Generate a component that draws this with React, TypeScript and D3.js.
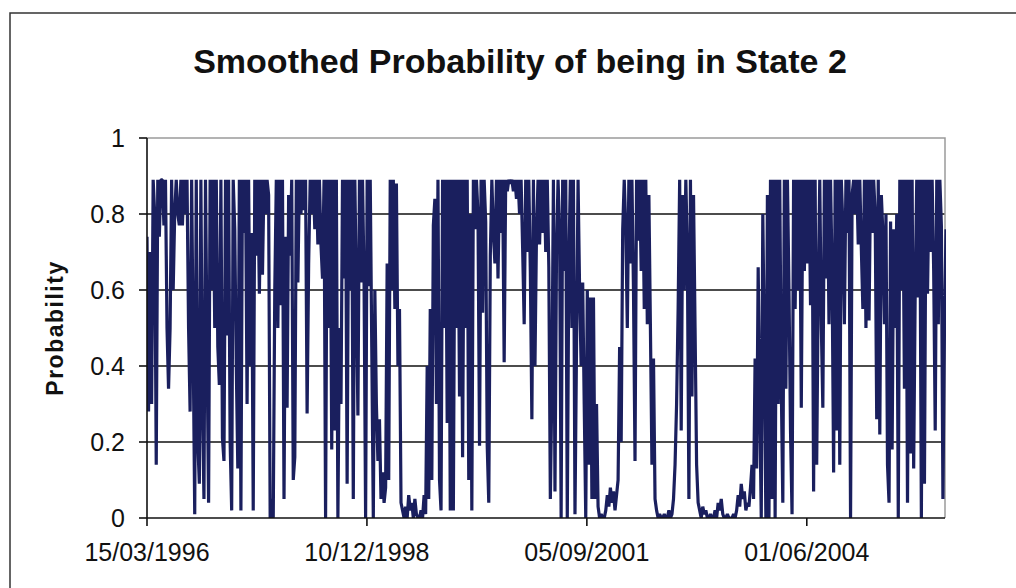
import React from 'react';
import * as d3 from 'd3';

const chartTitle = 'Smoothed Probability of being in State 2';
const yAxisTitle = 'Probability';
const startDateLabel = '15/03/1996';
const sampleStepDays = 7;
const xTickLabels = ['15/03/1996', '10/12/1998', '05/09/2001', '01/06/2004'];
const yTickValues = [0, 0.2, 0.4, 0.6, 0.8, 1];
const yTickLabels = ['0', '0.2', '0.4', '0.6', '0.8', '1'];

// Smoothed probability of State 2, one reading per week from 15/03/1996
const smoothedProb = [
  0.74, 0.28, 0.7, 0.3, 0.89, 0.8, 0.14, 0.89, 0.74, 0.89,
  0.89, 0.77, 0.89, 0.5, 0.34, 0.5, 0.89, 0.6, 0.8, 0.89,
  0.8, 0.77, 0.89, 0.77, 0.89, 0.8,
  0.89, 0.5, 0.28, 0.89, 0.45, 0.01, 0.89, 0.2, 0.09, 0.89, 0.3, 0.05, 0.89, 0.45,
  0.04, 0.89, 0.6, 0.89, 0.5, 0.89, 0.45, 0.35, 0.89, 0.21, 0.15,
  0.89, 0.48, 0.89, 0.2, 0.02, 0.89, 0.76, 0.4, 0.13, 0.89, 0.02,
  0.89, 0.75, 0.89, 0.3, 0.89, 0.4, 0.75, 0.02, 0.89, 0.69, 0.89, 0.59, 0.89, 0.64, 0.89, 0.8, 0.89,
  0.85, 0.0, 0.05, 0.0, 0.6,
  0.89, 0.5, 0.89, 0.56, 0.89, 0.05, 0.74, 0.29, 0.85, 0.69, 0.89, 0.1, 0.16, 0.89, 0.62,
  0.89, 0.8, 0.89, 0.81, 0.89, 0.275, 0.67, 0.89, 0.8, 0.89, 0.76, 0.89, 0.72, 0.89, 0.72,
  0.63, 0.89, 0.0, 0.89, 0.5,
  0.89, 0.18, 0.89, 0.23, 0.89, 0.0, 0.5, 0.3, 0.89, 0.63, 0.89, 0.09, 0.89, 0.6, 0.89,
  0.05, 0.89, 0.6, 0.27, 0.89, 0.62,
  0.89, 0.62, 0.0, 0.89, 0.61, 0.89, 0.45, 0.0, 0.6, 0.3, 0.15, 0.26, 0.05, 0.12, 0.04, 0.08,
  0.67, 0.1, 0.89, 0.6, 0.89, 0.55, 0.88, 0.4, 0.55, 0.04,
  0.02, 0.0, 0.03, 0.0, 0.06, 0.02, 0.04, 0.0, 0.05, 0.01, 0.0, 0.0, 0.02, 0.0, 0.06, 0.01,
  0.4, 0.05, 0.55, 0.1, 0.77,
  0.84, 0.3, 0.89, 0.1, 0.02, 0.89, 0.5, 0.89, 0.25, 0.89, 0.02,
  0.89, 0.02, 0.89, 0.5, 0.89, 0.32, 0.89, 0.16, 0.89, 0.5, 0.89, 0.1, 0.8,
  0.02, 0.89, 0.76, 0.89, 0.8, 0.19, 0.89, 0.54, 0.89, 0.78, 0.19, 0.04, 0.69,
  0.89, 0.75, 0.67, 0.89, 0.63, 0.89, 0.75, 0.89, 0.41, 0.89, 0.86,
  0.89, 0.88, 0.89, 0.86, 0.89, 0.84, 0.89, 0.8, 0.89, 0.71, 0.51,
  0.89, 0.7, 0.89, 0.65, 0.26, 0.89, 0.4, 0.75, 0.89, 0.72, 0.89, 0.75, 0.89, 0.7, 0.89,
  0.66, 0.05, 0.35, 0.89, 0.07, 0.7, 0.89, 0.76, 0.0, 0.89, 0.65, 0.89, 0.0, 0.67,
  0.89, 0.5, 0.89, 0.01, 0.45, 0.89, 0.6,
  0.4, 0.62, 0.3, 0.0, 0.6, 0.14, 0.58, 0.05, 0.58, 0.05, 0.3, 0.03,
  0.0, 0.01, 0.0, 0.0, 0.02, 0.06, 0.03, 0.08, 0.04, 0.07, 0.02, 0.06, 0.1,
  0.45, 0.2, 0.76, 0.89,
  0.76, 0.5, 0.89, 0.67, 0.89, 0.6, 0.15, 0.89, 0.73, 0.89,
  0.65, 0.89, 0.55, 0.89, 0.51, 0.85, 0.5, 0.14, 0.42, 0.05,
  0.02, 0.0, 0.01, 0.0, 0.0, 0.01, 0.0, 0.0, 0.02, 0.0, 0.01, 0.05, 0.14,
  0.3, 0.55, 0.89, 0.23, 0.85, 0.6, 0.89, 0.7, 0.05, 0.89, 0.32, 0.85, 0.5, 0.14, 0.04,
  0.02, 0.0, 0.03, 0.01, 0.02, 0.0, 0.0, 0.01, 0.0, 0.0,
  0.02, 0.0, 0.04, 0.02, 0.05, 0.01, 0.0, 0.0, 0.01, 0.0,
  0.0, 0.0, 0.01, 0.0, 0.02, 0.06, 0.03, 0.09, 0.05, 0.07,
  0.02, 0.04, 0.03, 0.08,
  0.14, 0.05, 0.42, 0.13, 0.66, 0.3, 0.0, 0.8, 0.45, 0.0, 0.85, 0.0, 0.89,
  0.05, 0.89, 0.0, 0.89, 0.3, 0.89, 0.35, 0.04, 0.89, 0.34,
  0.89, 0.6, 0.23, 0.01, 0.89, 0.55, 0.89, 0.6, 0.89, 0.29,
  0.89, 0.65, 0.89, 0.67, 0.89, 0.56, 0.89, 0.07, 0.89, 0.14,
  0.6, 0.89, 0.51, 0.29, 0.89, 0.63, 0.89, 0.51, 0.89, 0.65,
  0.12, 0.89, 0.23, 0.89, 0.14, 0.89, 0.77, 0.51, 0.89, 0.75,
  0.89, 0.0, 0.85, 0.89, 0.8, 0.89, 0.72, 0.89, 0.71,
  0.55, 0.89, 0.5, 0.89, 0.52, 0.89,
  0.75, 0.89, 0.8, 0.26, 0.89, 0.22, 0.85, 0.75, 0.51, 0.8, 0.14, 0.04, 0.78, 0.18, 0.76, 0.5, 0.8,
  0.0, 0.89, 0.6, 0.89, 0.34, 0.89, 0.04, 0.89, 0.17, 0.89, 0.13, 0.6, 0.89, 0.58, 0.89, 0.0,
  0.89, 0.09, 0.89, 0.59, 0.89, 0.7, 0.89, 0.65, 0.23, 0.89, 0.51, 0.89, 0.77, 0.05, 0.5, 0.76,
];

const W = 1016;
const H = 588;
const plot = { left: 147, right: 946, top: 138, bottom: 518 };
const lineColor = '#1a1f5e';
const font = "'Liberation Sans', Arial, sans-serif";

export default function App() {
  const parse = d3.utcParse('%d/%m/%Y');
  const start = parse(startDateLabel) as Date;
  const dates = smoothedProb.map((_, i) => d3.utcDay.offset(start, i * sampleStepDays));
  const x = d3.scaleUtc().domain([start, dates[dates.length - 1]]).range([plot.left, plot.right]);
  const y = d3.scaleLinear().domain([0, 1]).range([plot.bottom, plot.top]);
  const pathD = d3
    .line<number>()
    .x((_, i) => x(dates[i]))
    .y((d) => y(d))(smoothedProb) || '';
  const xTicks = xTickLabels.map((l) => ({ label: l, date: parse(l) as Date }));
  const gridRight = 945;

  return (
    <svg
      width={W}
      height={H}
      viewBox={`0 0 ${W} ${H}`}
      style={{ position: 'fixed', left: 0, top: 0, background: '#fff', fontFamily: font }}
    >
      <rect x={0} y={0} width={W} height={H} fill="#fff" />
      <path d={`M10,${H + 5}V13H${W + 5}`} fill="none" stroke="#333" strokeWidth={1.5} />
      <text x={520} y={73} textAnchor="middle" fontSize={34} fontWeight="bold" fill="#111">
        {chartTitle}
      </text>
      {yTickValues
        .filter((v) => v > 0 && v < 1)
        .map((v) => (
          <line key={v} x1={plot.left} x2={gridRight} y1={y(v)} y2={y(v)} stroke="#111" strokeWidth={1.6} />
        ))}
      <path
        d={`M${plot.left},${y(1)}H${gridRight}V${y(0)}`}
        fill="none"
        stroke="#9a9a9a"
        strokeWidth={1.5}
      />
      <defs>
        <clipPath id="plotClip">
          <rect x={plot.left} y={plot.top} width={gridRight - plot.left + 1} height={plot.bottom - plot.top} />
        </clipPath>
      </defs>
      <path
        d={pathD}
        fill="none"
        stroke={lineColor}
        strokeWidth={3.2}
        strokeLinejoin="bevel"
        clipPath="url(#plotClip)"
      />
      <line x1={plot.left} x2={plot.left} y1={y(1)} y2={y(0)} stroke="#111" strokeWidth={1.6} />
      <line x1={plot.left} x2={gridRight} y1={y(0)} y2={y(0)} stroke="#111" strokeWidth={1.6} />
      {yTickValues.map((v, i) => (
        <g key={v}>
          <line x1={plot.left - 8} x2={plot.left} y1={y(v)} y2={y(v)} stroke="#111" strokeWidth={1.6} />
          <text x={125} y={y(v) + 9} textAnchor="end" fontSize={25} fill="#111">
            {yTickLabels[i]}
          </text>
        </g>
      ))}
      {xTicks.map((t) => (
        <g key={t.label}>
          <line x1={x(t.date)} x2={x(t.date)} y1={y(0)} y2={y(0) + 8} stroke="#111" strokeWidth={1.6} />
          <text x={x(t.date)} y={561} textAnchor="middle" fontSize={25} fill="#111">
            {t.label}
          </text>
        </g>
      ))}
      <text
        transform={`translate(63,328) rotate(-90)`}
        textAnchor="middle"
        fontSize={23}
        fontWeight="bold"
        letterSpacing={1.5}
        fill="#111"
      >
        {yAxisTitle}
      </text>
    </svg>
  );
}
